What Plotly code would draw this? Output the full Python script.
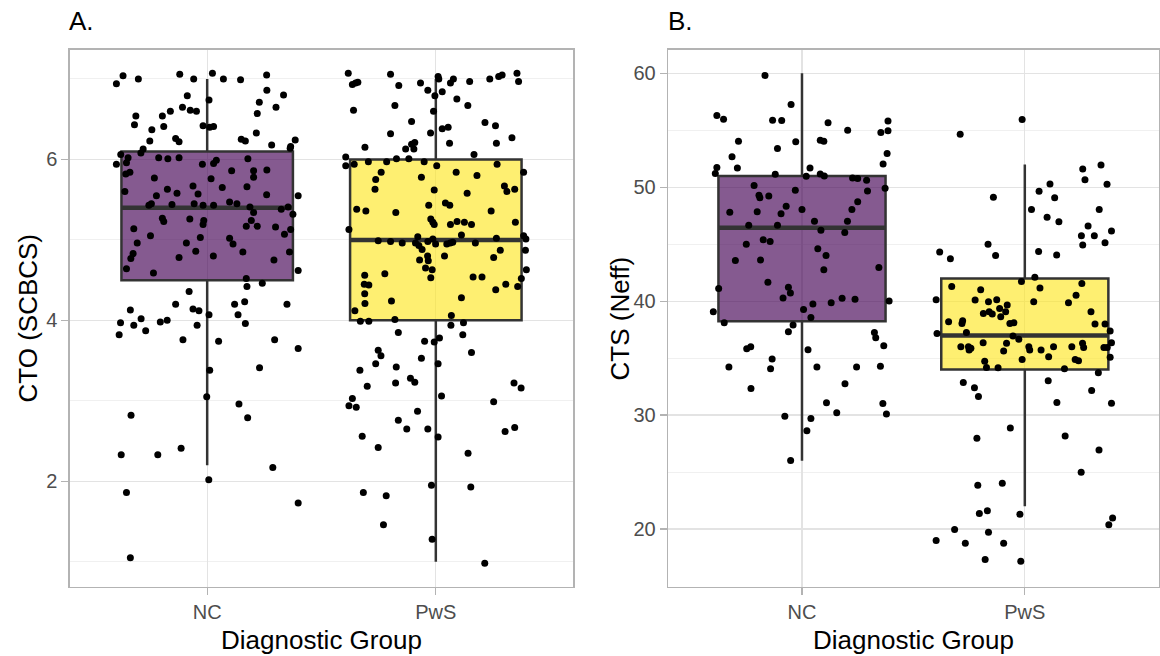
import plotly.graph_objects as go

# ---------------- data ----------------
categories = ["NC", "PwS"]

# Panel A: CTO (SCBCS)
A_nc_y = [6.94,7.04,7.00,7.06,7.00,7.07,7.00,6.99,7.05,
          6.79,6.74,6.86,6.80,6.71,6.65,
          6.54,6.43,6.54,6.60,6.65,6.61,6.60,
          6.41,6.37,6.23,6.26,6.22,6.42,6.40,6.41,
          6.57,6.33,6.25,6.23,6.24,6.18,6.14,
          6.13,6.08,6.06,6.02,5.94,5.96,
          6.02,6.01,6.02,5.94,5.95,5.99,6.01,6.16,
          5.84,5.82,5.77,5.76,5.86,5.86,5.78,5.87,
          5.60,5.55,5.63,5.58,5.67,5.57,5.65,5.66,5.56,5.55,
          5.43,5.45,5.44,5.45,5.43,5.43,5.47,5.45,5.41,5.34,5.38,5.41,5.32,
          5.14,5.27,5.23,5.26,5.24,5.19,5.24,5.17,5.17,5.16,5.13,5.07,
          5.05,4.96,5.03,5.02,4.95,4.96,4.86,4.85,4.85,
          4.83,4.77,4.78,4.80,4.75,
          4.64,4.59,4.62,
          4.52,4.46,4.42,
          4.36,
          4.13,4.20,4.14,4.12,4.20,4.23,4.20,4.07,4.07,
          3.97,4.02,3.94,3.98,4.00,3.94,3.96,3.87,3.82,
          3.76,3.74,3.76,3.65,
          3.38,3.41,
          3.05,2.96,2.82,2.79,
          2.41,2.33,2.33,2.17,
          2.02,1.86,1.73,1.05]
A_nc_jitter = [-0.397,-0.368,-0.301,-0.120,-0.059,0.023,0.071,0.146,0.260,
               -0.087,0.008,0.261,0.334,0.228,0.301,
               -0.312,-0.318,-0.196,-0.161,-0.108,-0.074,-0.047,
               -0.190,-0.242,-0.251,-0.138,-0.123,-0.018,0.011,0.028,
               0.219,0.215,0.149,0.167,0.385,0.282,0.363,
               -0.280,-0.290,-0.378,-0.346,-0.397,-0.353,
               -0.212,-0.172,-0.123,-0.021,0.028,0.040,0.178,0.365,
               -0.338,-0.356,-0.231,0.017,0.107,0.203,0.203,0.261,
               -0.360,-0.222,-0.174,-0.132,-0.062,-0.040,0.066,0.174,0.260,0.398,
               -0.255,-0.244,-0.154,-0.057,-0.018,0.028,0.098,0.130,0.187,0.203,0.324,0.354,0.375,
               -0.321,-0.196,-0.190,-0.076,-0.015,-0.018,0.193,0.171,0.219,0.299,0.365,0.338,
               -0.248,-0.306,-0.030,0.098,0.113,-0.091,-0.050,0.156,0.360,
               -0.324,-0.334,-0.123,0.027,0.292,
               -0.353,-0.235,0.398,
               0.171,0.241,0.174,
               -0.079,
               -0.336,-0.138,-0.062,-0.036,0.120,0.164,0.349,0.008,0.135,
               -0.379,-0.289,-0.321,-0.205,-0.175,-0.044,0.167,-0.269,-0.385,
               -0.106,0.050,0.295,0.398,
               0.011,0.229,
               -0.002,0.139,-0.333,0.177,
               -0.114,-0.376,-0.216,0.287,
               0.007,-0.353,0.398,-0.336]

A_pws_y = [7.07,7.06,6.93,6.95,6.96,6.92,6.95,6.86,7.03,7.00,6.79,6.84,6.95,7.00,6.97,7.00,7.03,7.05,7.07,6.97,
           6.61,6.67,6.60,6.75,6.67,
           6.47,6.32,6.33,6.38,6.40,6.46,6.42,6.27,
           6.15,6.13,6.19,6.21,6.13,6.20,6.20,6.06,
           6.03,5.92,5.94,5.97,5.97,6.01,6.01,5.97,5.92,5.94,
           5.84,5.75,5.63,5.78,5.84,5.80,5.84,5.62,5.58,5.67,5.60,5.63,
           5.38,5.36,5.34,5.43,5.46,5.43,5.36,
           5.13,5.26,5.22,5.19,5.19,5.23,5.22,5.19,5.22,
           5.06,5.04,5.05,5.01,
           4.99,4.98,4.96,4.96,4.93,4.98,5.01,4.95,4.95,4.96,4.97,4.96,5.02,
           4.87,4.87,4.88,4.80,4.75,4.74,4.80,4.78,
           4.65,4.63,4.63,4.58,4.56,4.45,4.44,4.53,4.54,4.54,4.52,4.42,4.45,4.38,
           4.33,4.28,
           4.12,4.21,4.24,4.06,3.99,3.99,4.01,3.94,3.97,3.85,3.82,3.74,3.73,3.78,
           3.63,3.56,3.60,3.53,3.46,3.38,3.42,3.46,
           3.28,3.23,3.22,3.18,3.22,3.16,3.06,3.03,2.94,2.92,2.99,
           2.87,2.76,2.65,2.65,2.56,2.55,2.62,2.67,2.42,2.35,
           1.95,1.86,1.82,1.93,1.46,1.28,0.98]
A_pws_jitter = [-0.383,-0.198,-0.365,-0.351,-0.341,-0.162,-0.067,-0.035,0.010,0.013,-0.004,0.028,0.064,0.077,0.148,0.236,0.275,0.290,0.355,0.362,
                -0.360,-0.179,-0.010,0.092,0.140,
                -0.106,-0.198,-0.023,0.028,0.054,0.215,0.261,0.333,
                -0.310,-0.132,-0.106,-0.092,-0.096,0.060,0.265,0.167,
                -0.394,-0.394,-0.357,-0.295,-0.215,-0.172,-0.118,-0.051,0.004,0.268,
                -0.239,-0.263,-0.266,-0.063,0.089,0.180,0.384,-0.007,0.137,0.300,0.311,0.345,
                -0.346,-0.306,-0.175,-0.031,0.042,0.061,0.242,
                -0.380,-0.022,-0.013,-0.007,0.064,0.093,0.125,0.156,0.348,
                0.112,-0.079,0.384,0.394,
                -0.252,-0.198,-0.147,-0.089,-0.074,-0.035,-0.013,-0.001,0.048,0.063,0.074,0.173,0.265,
                0.282,0.392,-0.060,-0.036,-0.071,-0.033,0.038,0.253,
                -0.045,-0.016,0.396,-0.223,-0.311,-0.313,-0.293,-0.022,0.163,0.202,0.374,0.358,0.306,0.262,
                -0.311,0.112,
                -0.354,-0.310,-0.194,0.068,-0.330,-0.293,-0.179,0.066,0.121,-0.164,0.118,-0.049,-0.007,0.016,
                -0.252,-0.240,0.156,-0.063,-0.263,-0.332,-0.173,0.010,
                -0.111,-0.092,-0.176,-0.300,0.342,0.373,0.025,-0.365,-0.380,-0.348,0.253,
                -0.080,-0.164,-0.127,-0.035,-0.322,0.010,0.303,0.345,-0.252,0.141,
                -0.019,-0.317,-0.217,0.153,-0.229,-0.016,0.214]

# Panel B: CTS (Neff)
B_nc_y = [59.82,57.27,56.30,55.98,55.89,55.87,55.66,55.01,55.81,54.81,54.96,
          54.05,53.40,53.99,54.13,54.05,52.96,52.67,
          51.73,51.20,51.70,51.14,51.70,50.97,51.17,51.00,52.05,
          50.82,50.76,50.62,50.15,49.74,49.91,49.68,
          49.30,49.09,49.24,47.80,47.86,48.33,47.68,48.06,48.74,48.04,
          46.66,46.66,47.01,46.22,47.01,46.04,
          45.01,45.40,45.25,44.60,44.02,43.58,43.61,42.76,42.96,
          41.67,41.11,41.23,40.73,40.29,40.26,40.18,
          39.08,39.28,39.75,39.87,38.58,40.01,
          38.11,37.91,37.32,37.26,36.79,36.09,35.83,36.00,35.74,
          34.92,34.22,34.07,34.22,34.22,34.28,
          32.34,32.75,31.08,30.20,31.02,30.09,
          29.91,29.71,28.62,26.02]
B_nc_jitter = [-0.166,-0.049,-0.382,-0.352,-0.132,-0.091,0.117,0.205,0.386,0.354,0.386,
               -0.285,-0.110,-0.028,0.082,0.098,0.382,-0.314,
               -0.382,-0.389,-0.290,-0.120,0.036,0.019,0.082,0.100,0.364,
               0.227,0.250,0.290,-0.215,-0.030,0.373,0.294,
               -0.193,-0.189,-0.149,-0.324,-0.201,-0.071,-0.094,0.000,0.250,0.224,
               -0.239,-0.110,0.056,0.085,0.204,0.192,
               -0.250,-0.174,-0.143,0.071,0.108,-0.299,-0.186,0.098,0.345,
               -0.153,-0.374,-0.061,-0.052,-0.085,0.180,0.238,
               -0.398,0.007,0.049,0.131,0.040,0.391,
               -0.349,-0.040,-0.061,0.325,0.331,0.367,-0.248,-0.230,0.027,
               -0.134,-0.328,-0.141,0.067,0.245,0.352,
               -0.229,0.193,0.110,0.156,0.363,0.379,
               -0.077,0.040,0.022,-0.051]

B_pws_y = [55.95,54.66,51.96,51.61,50.65,50.26,50.29,49.65,49.09,49.12,
           48.04,48.06,47.36,46.98,46.60,46.16,45.75,45.75,44.93,45.13,
           44.99,44.31,43.72,44.02,44.37,44.05,
           42.11,41.73,41.55,41.29,41.00,41.17,40.12,40.12,40.53,
           40.10,39.96,39.96,39.87,39.66,39.37,38.93,39.08,38.87,38.64,39.08,39.08,
           38.20,38.29,38.05,38.05,38.11,37.99,37.99,37.17,37.26,37.38,
           36.94,36.65,36.35,36.30,36.00,36.00,35.86,35.71,36.00,35.71,35.71,36.00,36.00,36.30,35.94,35.94,35.94,36.35,
           35.62,35.12,34.89,34.89,34.77,35.07,34.74,34.19,34.16,34.07,33.72,
           32.87,32.40,31.64,33.02,32.17,31.11,31.05,
           28.86,27.98,28.16,26.93,24.99,23.85,24.03,
           21.36,21.60,21.30,20.98,20.37,19.96,19.72,18.99,18.76,18.76,17.32,17.17]
B_pws_jitter = [-0.012,-0.290,0.342,0.260,0.270,0.369,0.113,0.064,0.134,-0.141,
                0.030,0.334,0.100,0.153,0.284,0.389,0.254,0.312,0.260,0.360,
                -0.165,-0.382,-0.334,-0.131,0.062,0.143,
                0.045,-0.015,0.256,-0.328,-0.198,0.068,-0.398,-0.126,0.230,
                -0.223,-0.163,0.040,0.196,-0.079,-0.113,-0.186,-0.160,-0.146,-0.108,-0.086,0.297,
                -0.342,-0.279,-0.282,-0.067,-0.049,0.315,0.360,-0.394,-0.262,0.383,
                -0.053,-0.027,-0.187,-0.082,-0.287,-0.253,-0.242,-0.250,0.018,0.022,0.073,0.129,0.211,0.259,0.264,0.355,0.370,0.389,
                -0.095,0.107,-0.012,0.226,0.241,0.383,-0.180,-0.172,-0.120,0.178,0.330,
                -0.276,-0.226,-0.208,0.105,0.300,0.144,0.389,
                -0.065,-0.215,0.181,0.333,0.253,-0.211,-0.101,
                -0.204,-0.168,-0.022,0.394,0.377,-0.315,-0.163,-0.398,-0.267,-0.095,-0.178,-0.018]

# box statistics [NC, PwS]
A_q1 = [4.50, 4.00]
A_median = [5.40, 5.00]
A_q3 = [6.10, 6.00]
A_lower = [2.20, 1.00]
A_upper = [7.00, 7.00]

B_q1 = [38.25, 34.00]
B_median = [46.45, 37.00]
B_q3 = [51.00, 42.00]
B_lower = [26.00, 22.00]
B_upper = [60.00, 52.00]

A_yticks = [2, 4, 6]
A_yminor = [1, 3, 5, 7]
B_yticks = [20, 30, 40, 50, 60]
B_yminor = [15, 25, 35, 45, 55]

# ---------------- styling ----------------
W, H = 1160, 656
FONT = "Liberation Sans, Arial, Helvetica, sans-serif"
fills = ["rgba(68,1,84,0.65)", "rgba(253,231,37,0.65)"]
BOXLINE = "#333333"
BOX_W = 0.75
cat_pos = [1, 2]

fig = go.Figure()

panels = [
    dict(xa="x", ya="y", q1=A_q1, med=A_median, q3=A_q3, lo=A_lower, hi=A_upper,
         pts=[(A_nc_jitter, A_nc_y), (A_pws_jitter, A_pws_y)]),
    dict(xa="x2", ya="y2", q1=B_q1, med=B_median, q3=B_q3, lo=B_lower, hi=B_upper,
         pts=[(B_nc_jitter, B_nc_y), (B_pws_jitter, B_pws_y)]),
]

for p in panels:
    for i, c in enumerate(cat_pos):
        fig.add_trace(go.Box(
            x=[c], q1=[p["q1"][i]], median=[p["med"][i]], q3=[p["q3"][i]],
            lowerfence=[p["lo"][i]], upperfence=[p["hi"][i]],
            width=BOX_W, fillcolor=fills[i], line=dict(color=BOXLINE, width=2.5),
            whiskerwidth=0, boxpoints=False, showlegend=False,
            xaxis=p["xa"], yaxis=p["ya"], hoverinfo="skip"))
        fig.add_trace(go.Scatter(
            x=[c - BOX_W / 2, c + BOX_W / 2], y=[p["med"][i], p["med"][i]],
            mode="lines", line=dict(color=BOXLINE, width=4.5),
            showlegend=False, xaxis=p["xa"], yaxis=p["ya"], hoverinfo="skip"))
    for i, c in enumerate(cat_pos):
        jit, ys = p["pts"][i]
        fig.add_trace(go.Scatter(
            x=[c + j for j in jit], y=ys, mode="markers",
            marker=dict(color="black", size=7, line=dict(width=0)),
            showlegend=False, xaxis=p["xa"], yaxis=p["ya"]))

ydom = [1 - 586.7 / H, 1 - 50 / H]
common_x = dict(range=[0.4, 2.6], tickvals=cat_pos, ticktext=categories,
                showgrid=True, gridcolor="#e3e3e3", gridwidth=1.3,
                showline=True, mirror=True, linecolor="#b3b3b3", linewidth=1.6,
                ticks="outside", ticklen=7, tickcolor="#b3b3b3", tickwidth=1.3,
                tickfont=dict(family=FONT, size=20, color="#4d4d4d"),
                zeroline=False, automargin=False, fixedrange=True)
common_y = dict(showgrid=True, gridcolor="#e3e3e3", gridwidth=1.3,
                showline=True, mirror=True, linecolor="#b3b3b3", linewidth=1.6,
                ticks="outside", ticklen=7, tickcolor="#b3b3b3", tickwidth=1.3,
                tickfont=dict(family=FONT, size=20, color="#4d4d4d"),
                zeroline=False, automargin=False, fixedrange=True)

fig.update_layout(
    width=W, height=H,
    margin=dict(l=0, r=0, t=0, b=0),
    paper_bgcolor="white", plot_bgcolor="white",
    font=dict(family=FONT),
    boxmode="overlay",
    xaxis=dict(domain=[70 / W, 573 / W], anchor="y", **common_x),
    yaxis=dict(domain=ydom, anchor="x", range=[0.69, 7.36], tickvals=A_yticks,
               minor=dict(tickvals=A_yminor, showgrid=True, gridcolor="#ececec",
                          gridwidth=0.8, ticks=""),
               **common_y),
    xaxis2=dict(domain=[668.3 / W, 1158.5 / W], anchor="y2", **common_x),
    yaxis2=dict(domain=ydom, anchor="x2", range=[14.94, 62.05], tickvals=B_yticks,
                minor=dict(tickvals=B_yminor, showgrid=True, gridcolor="#ececec",
                           gridwidth=0.8, ticks=""),
                **common_y),
)

ann = []
ann.append(dict(text="A.", x=67 / W, y=1 - 21 / H, xanchor="left", yanchor="middle"))
ann.append(dict(text="B.", x=666 / W, y=1 - 21 / H, xanchor="left", yanchor="middle"))
for a in ann:
    a.update(xref="paper", yref="paper", showarrow=False,
             font=dict(family=FONT, size=26, color="black"))
titles = [
    dict(text="Diagnostic Group", x=321.5 / W, y=1 - 640 / H, textangle=0),
    dict(text="Diagnostic Group", x=913.4 / W, y=1 - 640 / H, textangle=0),
    dict(text="CTO (SCBCS)", x=27 / W, y=1 - 318.5 / H, textangle=-90),
    dict(text="CTS (Neff)", x=619 / W, y=1 - 318.5 / H, textangle=-90),
]
for t in titles:
    t.update(xref="paper", yref="paper", showarrow=False, xanchor="center", yanchor="middle",
             font=dict(family=FONT, size=26, color="black"))
fig.update_layout(annotations=ann + titles)

# remove the browser's default 8px body margin so the figure sits at the window origin
fig.write_html("out.html",
               config={"displayModeBar": False, "staticPlot": True},
               post_script="document.body.style.margin='0px'; document.body.style.overflow='hidden';")
